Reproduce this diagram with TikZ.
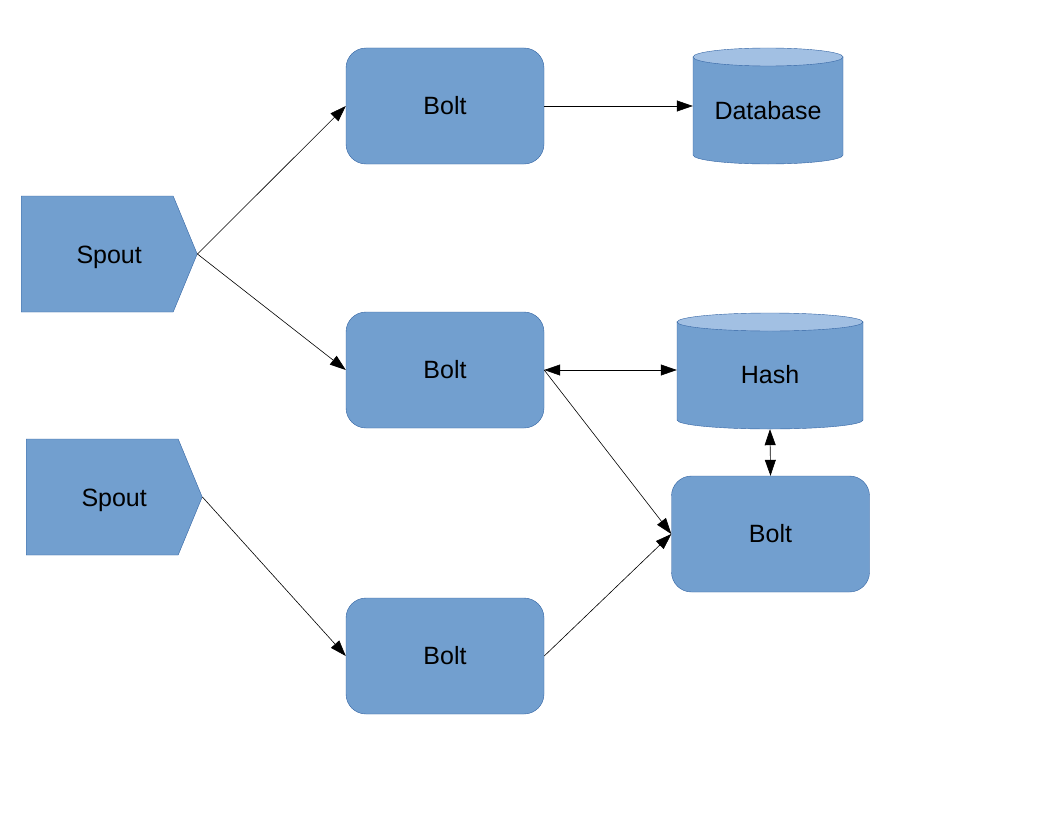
\documentclass[tikz,border=0pt]{standalone}
\usepackage{fontspec}
\setmainfont{Liberation Sans}
\usetikzlibrary{arrows.meta,shapes.symbols}
\definecolor{boxfill}{HTML}{729FCF}
\definecolor{boxline}{HTML}{3465A4}
\definecolor{captop}{HTML}{A2C0E3}
\begin{document}
\begin{tikzpicture}[x=1pt,y=-1pt,
  every node/.style={font=\fontsize{25}{29}\selectfont, text=black},
  bolt/.style={rectangle, rounded corners=20pt, draw=boxline, fill=boxfill,
    minimum width=198pt, minimum height=116pt, inner sep=0pt},
  spout/.style={signal, signal to=east, signal pointer angle=135,
    draw=boxline, fill=boxfill, minimum width=176pt, minimum height=116pt,
    inner sep=0pt, anchor=west},
  spoutname/.style={label={[xshift=12pt, yshift=-3pt]center:#1}},
  store/.style={rectangle, inner sep=0pt},
  link/.style={draw=black, line width=0.6pt, -{Triangle[length=16pt,width=11pt]}},
  dlink/.style={draw=black, line width=0.6pt,
    {Triangle[length=16pt,width=11pt]}-{Triangle[length=16pt,width=11pt]}}
]
\useasboundingbox[fill=white] (0,0) rectangle (1056,816);

% cylinder bodies and caps
\path[fill=boxfill, draw=boxline] (693,57) -- (693,155)
  arc[start angle=180, end angle=360, x radius=75pt, y radius=9pt] -- (843,57) -- cycle;
\path[fill=captop, draw=boxline] (768,57) ellipse[x radius=75pt, y radius=9pt];
\path[fill=boxfill, draw=boxline] (677,322) -- (677,420)
  arc[start angle=180, end angle=360, x radius=93pt, y radius=9pt] -- (863,322) -- cycle;
\path[fill=captop, draw=boxline] (770,322) ellipse[x radius=93pt, y radius=9pt];

% storage nodes (outline drawn above)
\node[store, minimum width=150pt, minimum height=116pt] (db) at (768,106) {};
\node at (768,111) {Database};
\node[store, minimum width=186pt, minimum height=118pt] (hash) at (770,370) {};
\node at (770,375) {Hash};

% spouts
\node[spout, spoutname=Spout] (sp1) at (21,254) {};
\node[spout, spoutname=Spout] (sp2) at (26,497) {};

% bolts
\node[bolt] (b1) at (445,106) {Bolt};
\node[bolt] (b2) at (445,370) {Bolt};
\node[bolt] (b3) at (445,656) {Bolt};
\node[bolt] (b4) at (770.5,534) {Bolt};

% stream connections
\draw[link] (sp1.east) -- (b1.west);
\draw[link] (sp1.east) -- (b2.west);
\draw[link] (sp2.east) -- (b3.west);
\draw[link] (b1.east) -- (db.west);
\draw[dlink] (b2.east) -- (hash.west);
\draw[link] (b2.east) -- (b4.west);
\draw[link] (b3.east) -- (b4.west);
\draw[dlink] (hash.south) -- (b4.north);
\end{tikzpicture}
\end{document}
